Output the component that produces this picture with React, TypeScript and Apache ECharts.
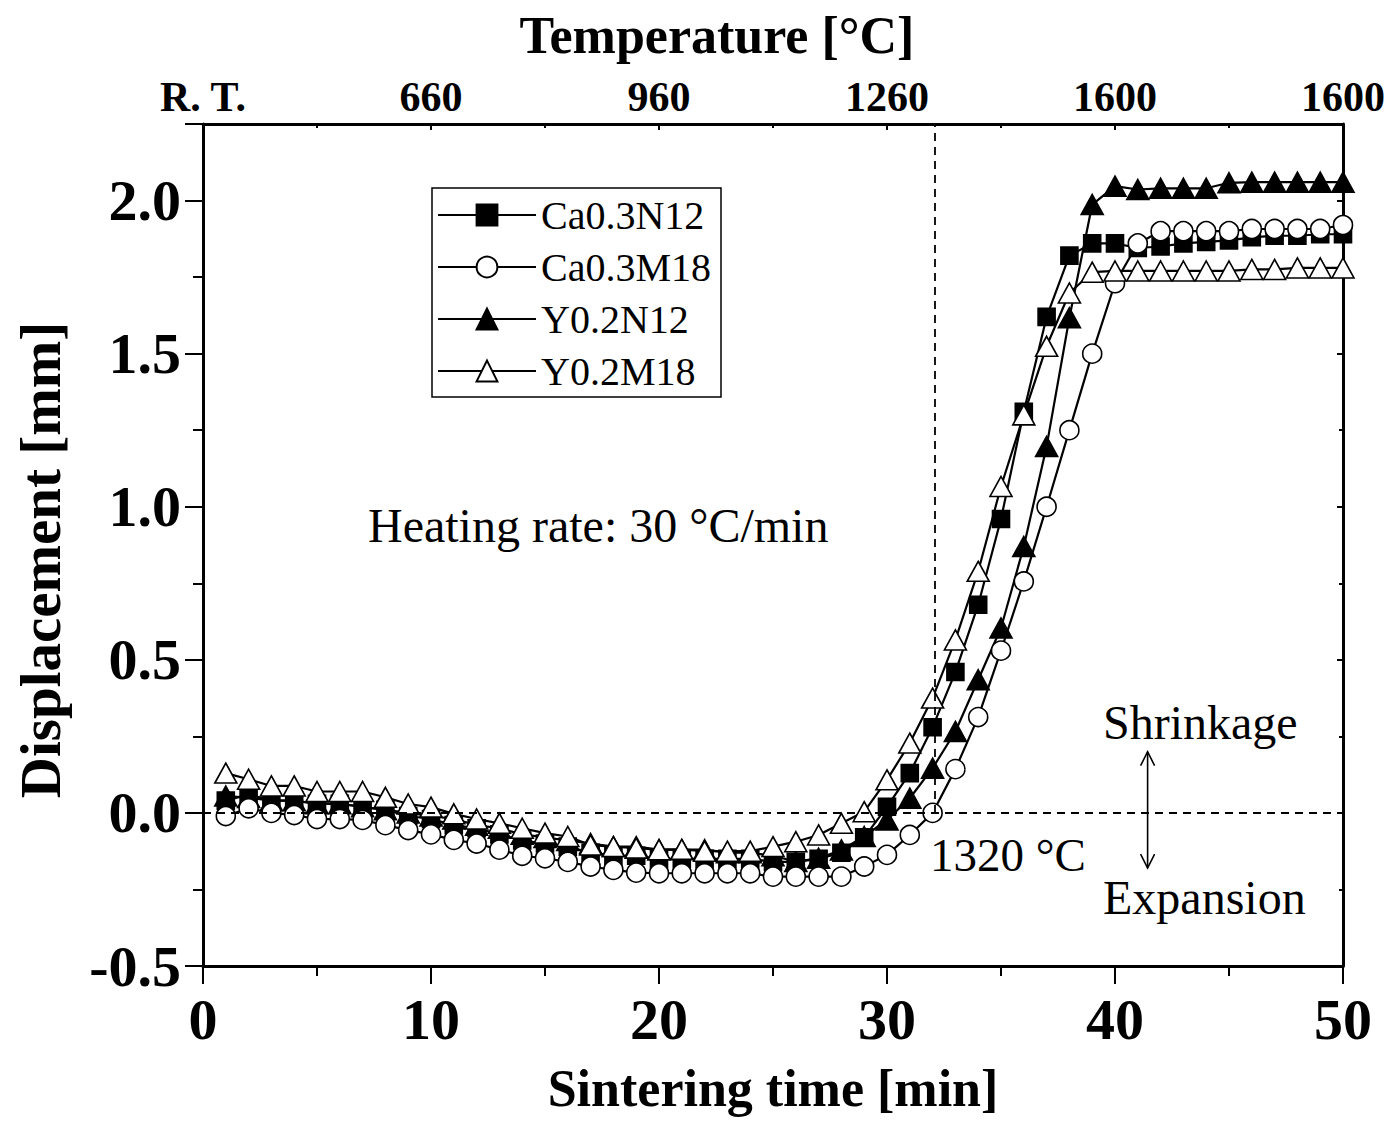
import React, { useEffect, useRef } from 'react';
import * as echarts from 'echarts';

const timeMin = [1, 2, 3, 4, 5, 6, 7, 8, 9, 10, 11, 12, 13, 14, 15, 16, 17, 18, 19, 20, 21, 22, 23, 24, 25, 26, 27, 28, 29, 30, 31, 32, 33, 34, 35, 36, 37, 38, 39, 40, 41, 42, 43, 44, 45, 46, 47, 48, 49, 50];

const ca03N12 = [0.04, 0.06, 0.04, 0.04, 0.03, 0.03, 0.02, 0.01, -0.01, -0.02, -0.04, -0.05, -0.07, -0.09, -0.10, -0.11, -0.13, -0.14, -0.14, -0.15, -0.15, -0.15, -0.15, -0.15, -0.16, -0.16, -0.15, -0.13, -0.08, 0.02, 0.13, 0.28, 0.46, 0.68, 0.96, 1.31, 1.62, 1.82, 1.86, 1.86, 1.845, 1.85, 1.86, 1.865, 1.87, 1.88, 1.885, 1.885, 1.89, 1.89];

const ca03M18 = [-0.01, 0.015, 0.0, -0.007, -0.02, -0.02, -0.023, -0.04, -0.056, -0.07, -0.088, -0.10, -0.12, -0.14, -0.148, -0.16, -0.175, -0.186, -0.195, -0.197, -0.197, -0.197, -0.197, -0.197, -0.208, -0.208, -0.208, -0.208, -0.175, -0.137, -0.072, 0.0, 0.143, 0.313, 0.53, 0.756, 1.0, 1.25, 1.50, 1.73, 1.86, 1.90, 1.90, 1.90, 1.90, 1.907, 1.907, 1.907, 1.907, 1.92];

const y02N12 = [0.055, 0.05, 0.04, 0.04, 0.03, 0.03, 0.02, 0.01, 0.0, -0.01, -0.02, -0.04, -0.05, -0.07, -0.08, -0.09, -0.10, -0.11, -0.11, -0.12, -0.12, -0.12, -0.13, -0.13, -0.14, -0.159, -0.148, -0.121, -0.077, -0.023, 0.048, 0.146, 0.266, 0.435, 0.604, 0.87, 1.197, 1.617, 1.987, 2.047, 2.036, 2.04, 2.04, 2.04, 2.058, 2.06, 2.06, 2.06, 2.06, 2.06];

const y02M18 = [0.13, 0.11, 0.088, 0.088, 0.07, 0.07, 0.07, 0.051, 0.029, 0.019, -0.003, -0.02, -0.034, -0.05, -0.066, -0.077, -0.105, -0.11, -0.115, -0.12, -0.119, -0.125, -0.125, -0.125, -0.11, -0.094, -0.072, -0.034, 0.004, 0.108, 0.228, 0.375, 0.565, 0.789, 1.066, 1.30, 1.524, 1.698, 1.766, 1.77, 1.77, 1.77, 1.77, 1.77, 1.77, 1.775, 1.775, 1.78, 1.78, 1.78];

const seriesNames = ['Ca0.3N12', 'Ca0.3M18', 'Y0.2N12', 'Y0.2M18'];
const tempLabels = ['R. T.', '660', '960', '1260', '1600', '1600'];
const onsetTime = 32.1;

const SERIF = '"Liberation Serif", "Times New Roman", serif';

export default function App() {
  const ref = useRef<HTMLDivElement>(null);

  useEffect(() => {
    const chart = echarts.init(ref.current!, null, { renderer: 'svg' });
    const pair = (ys: number[]) => timeMin.map((t, i) => [t, ys[i]]);

    const lineStyle = { color: '#000', width: 2.2 };
    const mkSeries = (name: string, ys: number[], symbol: string, size: any, filled: boolean) => ({
      name,
      type: 'line',
      data: pair(ys),
      symbol,
      symbolSize: size,
      showAllSymbol: true,
      z: 3,
      lineStyle,
      itemStyle: { color: filled ? '#000' : '#fff', borderColor: '#000', borderWidth: 1.6 },
      emphasis: { disabled: true },
    });

    const axisLine = { show: true, onZero: false, lineStyle: { color: '#000', width: 3 } };

    chart.setOption({
      animation: false,
      backgroundColor: '#fff',
      grid: { left: 203, right: 42, top: 124, bottom: 156, containLabel: false },
      legend: {
        data: seriesNames,
        orient: 'vertical',
        left: 432,
        top: 188,
        itemWidth: 98,
        itemHeight: 26,
        itemGap: 12,
        padding: [7, 10, 6, 5],
        borderColor: '#000',
        borderWidth: 1.5,
        backgroundColor: '#fff',
        selectedMode: false,
        textStyle: { fontFamily: SERIF, fontSize: 40, color: '#000', lineHeight: 40 },
      },
      xAxis: [
        {
          type: 'value',
          min: 0,
          max: 50,
          interval: 10,
          position: 'bottom',
          axisLine,
          axisTick: { show: true, inside: false, length: 18, lineStyle: { color: '#000', width: 2 } },
          minorTick: { show: true, splitNumber: 2, length: 10, lineStyle: { color: '#000', width: 2 } },
          splitLine: { show: false },
          axisLabel: { fontFamily: SERIF, fontWeight: 'bold', fontSize: 58, color: '#000', margin: 24 },
          name: 'Sintering time [min]',
          nameLocation: 'middle',
          nameGap: 96,
          nameTextStyle: { fontFamily: SERIF, fontWeight: 'bold', fontSize: 52, color: '#000' },
        },
        {
          type: 'value',
          min: 0,
          max: 50,
          interval: 10,
          position: 'top',
          axisLine,
          axisTick: { show: true, inside: true, length: 6, lineStyle: { color: '#000', width: 2 } },
          minorTick: { show: true, splitNumber: 2, length: 4, lineStyle: { color: '#000', width: 2 } },
          splitLine: { show: false },
          axisLabel: {
            fontFamily: SERIF,
            fontWeight: 'bold',
            fontSize: 42,
            color: '#000',
            margin: 6,
            formatter: (v: number) => tempLabels[Math.round(v / 10)] ?? '',
          },
        },
      ],
      yAxis: [
        {
          type: 'value',
          min: -0.5,
          max: 2.25,
          interval: 0.5,
          position: 'left',
          axisLine,
          axisTick: { show: true, inside: false, length: 18, lineStyle: { color: '#000', width: 2 } },
          minorTick: { show: true, splitNumber: 2, length: 10, lineStyle: { color: '#000', width: 2 } },
          splitLine: { show: false },
          axisLabel: {
            fontFamily: SERIF,
            fontWeight: 'bold',
            fontSize: 58,
            color: '#000',
            margin: 22,
            formatter: (v: number) => (Math.abs(v * 2 - Math.round(v * 2)) < 1e-9 ? v.toFixed(1) : ''),
          },
        },
        {
          type: 'value',
          min: -0.5,
          max: 2.25,
          interval: 0.5,
          position: 'right',
          axisLine,
          axisTick: { show: true, inside: true, length: 6, lineStyle: { color: '#000', width: 2 } },
          minorTick: { show: true, splitNumber: 2, length: 4, lineStyle: { color: '#000', width: 2 } },
          splitLine: { show: false },
          axisLabel: { show: false },
        },
      ],
      series: [
        {
          name: 'guides',
          type: 'line',
          data: [],
          z: 1,
          markLine: {
            silent: true,
            symbol: 'none',
            label: { show: false },
            lineStyle: { color: '#000', type: [8, 6], width: 1.8 },
            data: [
              [{ coord: [0, 0] }, { coord: [50, 0] }],
              [{ coord: [onsetTime, 0] }, { coord: [onsetTime, 2.25] }],
            ],
          },
        },
        mkSeries('Ca0.3N12', ca03N12, 'rect', 17, true),
        mkSeries('Y0.2N12', y02N12, 'triangle', [22, 20], true),
        mkSeries('Ca0.3M18', ca03M18, 'circle', 19, false),
        mkSeries('Y0.2M18', y02M18, 'triangle', [22, 20], false),
      ],
    });

    const top = chart.convertToPixel({ gridIndex: 0 }, [41.43, 0.2]) as number[];
    const bot = chart.convertToPixel({ gridIndex: 0 }, [41.43, -0.18]) as number[];
    const ax = top[0];
    const head = 7;
    const textFont = (size: number, bold = false) => `${bold ? 'bold ' : ''}${size}px ${SERIF}`;

    chart.setOption({
      graphic: [
        {
          type: 'text',
          x: 717,
          y: 35,
          style: { text: 'Temperature [°C]', font: textFont(52, true), fill: '#000', align: 'center', verticalAlign: 'middle' },
        },
        {
          type: 'text',
          x: 40,
          y: 560,
          rotation: Math.PI / 2,
          style: { text: 'Displacement [mm]', font: textFont(57, true), fill: '#000', align: 'center', verticalAlign: 'middle' },
        },
        {
          type: 'text',
          x: 368,
          y: 525,
          style: { text: 'Heating rate: 30 °C/min', font: textFont(48), fill: '#000', align: 'left', verticalAlign: 'middle' },
        },
        {
          type: 'text',
          x: 930,
          y: 855,
          style: { text: '1320 °C', font: textFont(47), fill: '#000', align: 'left', verticalAlign: 'middle' },
        },
        {
          type: 'text',
          x: 1103,
          y: 722,
          style: { text: 'Shrinkage', font: textFont(48), fill: '#000', align: 'left', verticalAlign: 'middle' },
        },
        {
          type: 'text',
          x: 1103,
          y: 897,
          style: { text: 'Expansion', font: textFont(48), fill: '#000', align: 'left', verticalAlign: 'middle' },
        },
        {
          type: 'line',
          shape: { x1: ax, y1: top[1], x2: ax, y2: bot[1] },
          style: { stroke: '#000', lineWidth: 1.6 },
        },
        {
          type: 'polyline',
          shape: { points: [[ax - head, top[1] + 14], [ax, top[1]], [ax + head, top[1] + 14]] },
          style: { stroke: '#000', lineWidth: 1.6, fill: null },
        },
        {
          type: 'polyline',
          shape: { points: [[ax - head, bot[1] - 14], [ax, bot[1]], [ax + head, bot[1] - 14]] },
          style: { stroke: '#000', lineWidth: 1.6, fill: null },
        },
      ],
    });

    return () => chart.dispose();
  }, []);

  return (
    <div
      ref={ref}
      style={{ position: 'absolute', left: 0, top: 0, width: 1388, height: 1122, background: '#fff' }}
    />
  );
}
